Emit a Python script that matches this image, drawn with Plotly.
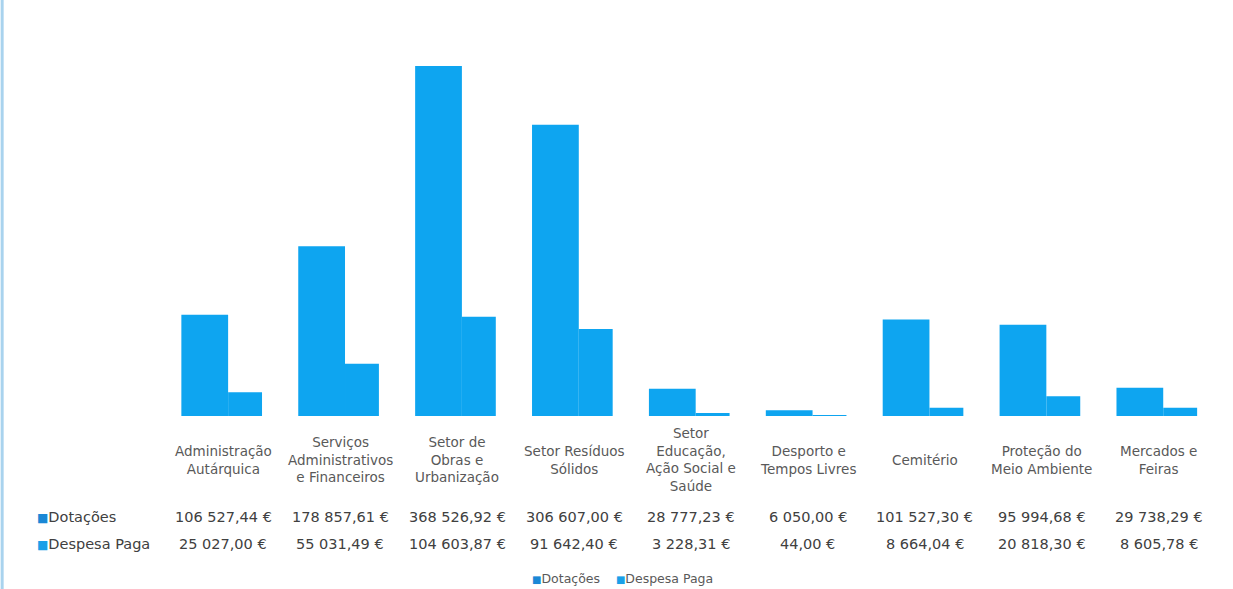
import plotly.graph_objects as go

categories = [
    "Administração<br>Autárquica",
    "Serviços<br>Administrativos<br>e Financeiros",
    "Setor de<br>Obras e<br>Urbanização",
    "Setor Resíduos<br>Sólidos",
    "Setor<br>Educação,<br>Ação Social e<br>Saúde",
    "Desporto e<br>Tempos Livres",
    "Cemitério",
    "Proteção do<br>Meio Ambiente",
    "Mercados e<br>Feiras",
]
dotacoes = [106527.44, 178857.61, 368526.92, 306607.00, 28777.23, 6050.00, 101527.30, 95994.68, 29738.29]
despesa_paga = [25027.00, 55031.49, 104603.87, 91642.40, 3228.31, 44.00, 8664.04, 20818.30, 8605.78]
series_names = ["Dotações", "Despesa Paga"]

W, H = 1233, 589
L, R = 164.5, 1217.5
TOP, BASE = 36, 416
BAR = "#0ea5f0"
TXT = "#404040"
FONT = "DejaVu Sans"


def fmt(v):
    s = f"{v:,.2f}"
    ip, dp = s.split(".")
    return ip.replace(",", " ") + "," + dp + " €"


def py(p):
    return (BASE - p) / (BASE - TOP)


def px(p):
    return (p - L) / (R - L)


x = list(range(len(categories)))

fig = go.Figure()
fig.add_trace(go.Bar(x=x, y=dotacoes, name=series_names[0], marker=dict(color=BAR, line=dict(width=0)),
                     width=0.40, offset=-0.36, hoverinfo="y"))
fig.add_trace(go.Bar(x=x, y=despesa_paga, name=series_names[1], marker=dict(color=BAR, line=dict(width=0)),
                     width=0.29, offset=0.04, hoverinfo="y"))

ann = []
for i, c in enumerate(categories):
    ann.append(dict(x=i, y=py(460), xref="x", yref="paper", text=c, showarrow=False,
                    font=dict(family=FONT, size=13.5, color="#595959"), align="center",
                    xanchor="center", yanchor="middle"))
    ann.append(dict(x=i, y=py(517), xref="x", yref="paper", text=fmt(dotacoes[i]), showarrow=False,
                    font=dict(family=FONT, size=14.5, color=TXT), xanchor="center", yanchor="middle"))
    ann.append(dict(x=i, y=py(544), xref="x", yref="paper", text=fmt(despesa_paga[i]), showarrow=False,
                    font=dict(family=FONT, size=14.5, color=TXT), xanchor="center", yanchor="middle"))

row_colors = ["#1a88d6", "#1aa0e8"]
for name, yp, col in zip(series_names, [517, 544], row_colors):
    ann.append(dict(x=px(34), y=py(yp), xref="paper", yref="paper",
                    text=f"<span style='color:{col};font-size:12px'>■</span>{name}", showarrow=False,
                    font=dict(family=FONT, size=14.5, color=TXT), xanchor="left", yanchor="middle"))

# bottom legend
ann.append(dict(x=px(622), y=py(578), xref="paper", yref="paper",
                text=f"<span style='color:{row_colors[0]};font-size:10px'>■</span>{series_names[0]}&nbsp;&nbsp;&nbsp;&nbsp;"
                     f"<span style='color:{row_colors[1]};font-size:10px'>■</span>{series_names[1]}",
                showarrow=False, font=dict(family=FONT, size=12.5, color="#595959"),
                xanchor="center", yanchor="middle"))

shapes = [dict(type="line", xref="paper", yref="paper", x0=px(1.5), x1=px(1.5), y0=py(0), y1=py(H),
               line=dict(color="#a9d3ee", width=3))]

fig.update_layout(
    width=W, height=H,
    margin=dict(l=L, r=W - R, t=TOP, b=H - BASE),
    paper_bgcolor="white", plot_bgcolor="white",
    barmode="overlay",
    showlegend=False,
    xaxis=dict(range=[-0.5, len(categories) - 0.5], showticklabels=False, showgrid=False,
               zeroline=False, showline=False, ticks=""),
    yaxis=dict(range=[0, 368526.92 * (BASE - TOP) / (BASE - 66)], showticklabels=False, showgrid=False,
               zeroline=False, showline=False, ticks=""),
    annotations=ann,
    shapes=shapes,
    font=dict(family=FONT),
)

fig.write_html("out.html", config={"displayModeBar": False},
               post_script="document.body.style.margin='0';document.body.style.overflow='hidden';")
